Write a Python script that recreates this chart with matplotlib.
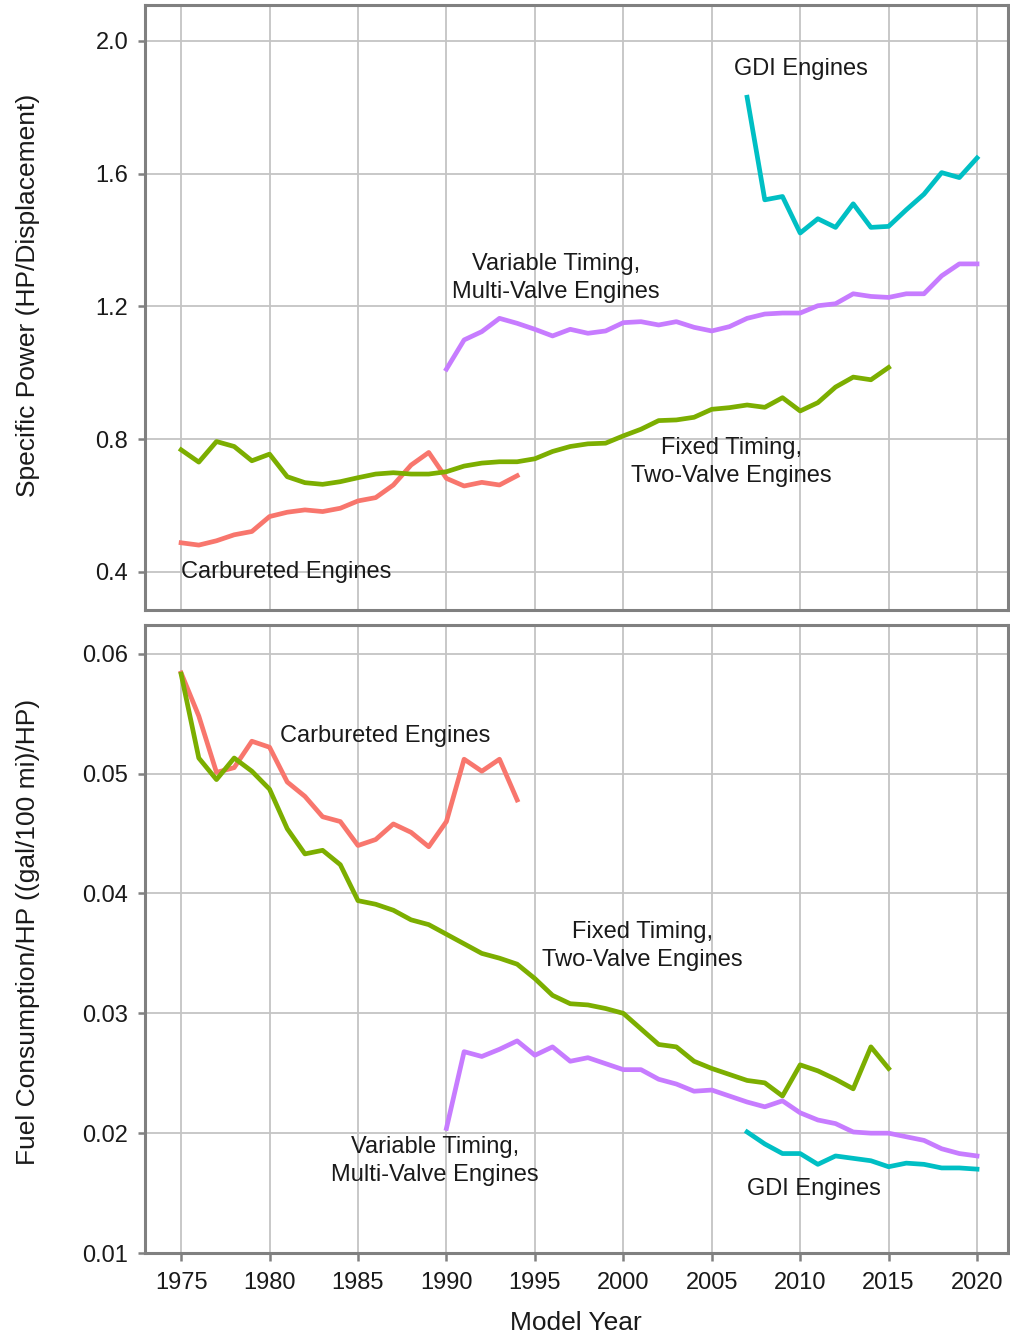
import matplotlib
matplotlib.use("Agg")
import matplotlib.pyplot as plt
import numpy as np

plt.rcParams['font.family'] = ['Liberation Sans', 'DejaVu Sans']

# Series
carb_years = list(range(1975, 1995))
fixed_years = list(range(1975, 2016))
vvt_years = list(range(1990, 2021))
gdi_years = list(range(2007, 2021))

# Specific power (HP/displacement)
carb_power = [0.488, 0.481, 0.494, 0.512, 0.522, 0.567, 0.580, 0.587, 0.582, 0.592,
              0.614, 0.624, 0.662, 0.722, 0.760, 0.682, 0.659, 0.670, 0.662, 0.690]
fixed_power = [0.768, 0.731, 0.793, 0.778, 0.735, 0.755, 0.687, 0.669, 0.664, 0.672,
               0.684, 0.695, 0.699, 0.695, 0.695, 0.702, 0.719, 0.728, 0.732, 0.732,
               0.741, 0.763, 0.778, 0.786, 0.788, 0.810, 0.830, 0.856, 0.858, 0.866,
               0.890, 0.895, 0.903, 0.896, 0.925, 0.885, 0.910, 0.957, 0.987, 0.979,
               1.016]
vvt_power = [1.011, 1.099, 1.124, 1.164, 1.149, 1.131, 1.111, 1.131, 1.119, 1.126,
             1.151, 1.154, 1.144, 1.154, 1.137, 1.126, 1.139, 1.164, 1.177, 1.180,
             1.180, 1.202, 1.208, 1.238, 1.230, 1.227, 1.238, 1.238, 1.292, 1.328,
             1.328]
gdi_power = [1.830, 1.521, 1.531, 1.421, 1.464, 1.438, 1.509, 1.438, 1.441, 1.491,
             1.538, 1.603, 1.588, 1.647]

# Fuel consumption per HP ((gal/100 mi)/HP)
carb_fc = [0.0584, 0.0548, 0.0501, 0.0505, 0.0527, 0.0522, 0.0493, 0.0481, 0.0464, 0.0460,
           0.0440, 0.0445, 0.0458, 0.0451, 0.0439, 0.0460, 0.0512, 0.0502, 0.0512, 0.0478]
fixed_fc = [0.0583, 0.0513, 0.0495, 0.0513, 0.0502, 0.0487, 0.0454, 0.0433, 0.0436, 0.0424,
            0.0394, 0.0391, 0.0386, 0.0378, 0.0374, 0.0366, 0.0358, 0.0350, 0.0346, 0.0341,
            0.0329, 0.0315, 0.0308, 0.0307, 0.0304, 0.0300, 0.0287, 0.0274, 0.0272, 0.0260,
            0.0254, 0.0249, 0.0244, 0.0242, 0.0231, 0.0257, 0.0252, 0.0245, 0.0237, 0.0272,
            0.0254]
vvt_fc = [0.0204, 0.0268, 0.0264, 0.0270, 0.0277, 0.0265, 0.0272, 0.0260, 0.0263, 0.0258,
          0.0253, 0.0253, 0.0245, 0.0241, 0.0235, 0.0236, 0.0231, 0.0226, 0.0222, 0.0227,
          0.0217, 0.0211, 0.0208, 0.0201, 0.0200, 0.0200, 0.0197, 0.0194, 0.0187, 0.0183,
          0.0181]
gdi_fc = [0.0201, 0.0191, 0.0183, 0.0183, 0.0174, 0.0181, 0.0179, 0.0177, 0.0172, 0.0175,
          0.0174, 0.0171, 0.0171, 0.0170]

RED = "#F8766D"
GREEN = "#7CAE00"
CYAN = "#00BFC4"
PURPLE = "#C77CFF"
SPINE = "#808080"
GRID = "#C4C4C4"
TXT = "#1a1a1a"

fig = plt.figure(figsize=(10.10, 13.38), dpi=100)
ax1 = fig.add_axes([0.1436, 0.5441, 0.8544, 0.4522])
ax2 = fig.add_axes([0.1436, 0.0635, 0.8544, 0.4694])

for ax in (ax1, ax2):
    ax.set_xlim(1972.96, 2021.75)
    ax.set_xticks(np.arange(1975, 2021, 5))
    ax.grid(True, color=GRID, linewidth=1.3)
    ax.set_axisbelow(True)
    for s in ax.spines.values():
        s.set_color(SPINE)
        s.set_linewidth(2.2)
    ax.tick_params(colors=SPINE, width=1.8, labelcolor=TXT, labelsize=17)
    ax.tick_params(axis="y", length=5, pad=7)
    ax.tick_params(axis="x", length=5.5, pad=8)

lw = 3.4
fs = 17
lab = 19
ls = 1.35

# Top panel
ax1.plot(carb_years, carb_power, color=RED, lw=lw)
ax1.plot(fixed_years, fixed_power, color=GREEN, lw=lw)
ax1.plot(vvt_years, vvt_power, color=PURPLE, lw=lw)
ax1.plot(gdi_years, gdi_power, color=CYAN, lw=lw)
ax1.set_ylim(0.2855, 2.108)
ax1.set_yticks([0.4, 0.8, 1.2, 1.6, 2.0])
ax1.set_yticklabels(["0.4", "0.8", "1.2", "1.6", "2.0"])
ax1.tick_params(axis="x", length=0, labelbottom=False)
ax1.set_ylabel("Specific Power (HP/Displacement)", fontsize=lab, color=TXT, va="center")
ax1.yaxis.set_label_coords(-0.1356, 0.52)

ax1.text(2010.05, 1.916, "GDI Engines", ha="center", va="center", fontsize=fs, color=TXT)
ax1.text(1996.2, 1.286, "Variable Timing,\nMulti-Valve Engines", ha="center", va="center",
         fontsize=fs, color=TXT, linespacing=ls)
ax1.text(2006.1, 0.732, "Fixed Timing,\nTwo-Valve Engines", ha="center", va="center",
         fontsize=fs, color=TXT, linespacing=ls)
ax1.text(1975, 0.4, "Carbureted Engines", ha="left", va="center", fontsize=fs, color=TXT)

# Bottom panel
ax2.plot(carb_years, carb_fc, color=RED, lw=lw)
ax2.plot(fixed_years, fixed_fc, color=GREEN, lw=lw)
ax2.plot(vvt_years, vvt_fc, color=PURPLE, lw=lw)
ax2.plot(gdi_years, gdi_fc, color=CYAN, lw=lw)
ax2.set_ylim(0.01, 0.0624)
ax2.set_yticks([0.01, 0.02, 0.03, 0.04, 0.05, 0.06])
ax2.set_yticklabels(["0.01", "0.02", "0.03", "0.04", "0.05", "0.06"])
ax2.set_ylabel("Fuel Consumption/HP ((gal/100 mi)/HP)", fontsize=lab, color=TXT, va="center")
ax2.yaxis.set_label_coords(-0.1356, 0.511)
ax2.set_xlabel("Model Year", fontsize=lab, color=TXT, va="center")
ax2.xaxis.set_label_coords(0.4994, -0.1115)

ax2.text(1986.56, 0.0531, "Carbureted Engines", ha="center", va="center", fontsize=fs, color=TXT)
ax2.text(2001.1, 0.0356, "Fixed Timing,\nTwo-Valve Engines", ha="center", va="center",
         fontsize=fs, color=TXT, linespacing=ls)
ax2.text(1989.33, 0.01765, "Variable Timing,\nMulti-Valve Engines", ha="center", va="center",
         fontsize=fs, color=TXT, linespacing=ls)
ax2.text(2010.78, 0.01536, "GDI Engines", ha="center", va="center", fontsize=fs, color=TXT)

fig.savefig("out.png", dpi=100)
